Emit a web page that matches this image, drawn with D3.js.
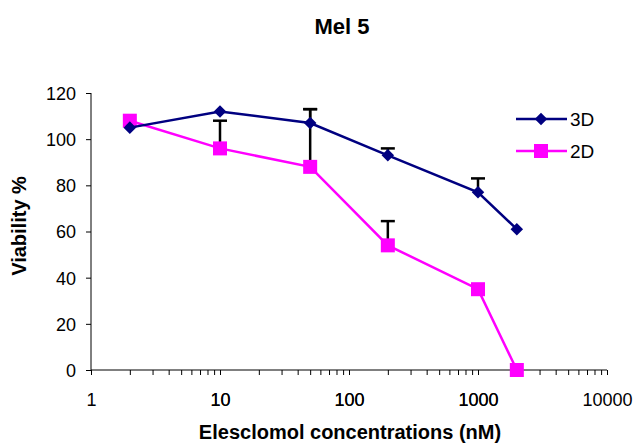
<!DOCTYPE html>
<html>
<head>
<meta charset="utf-8">
<script src="https://cdn.jsdelivr.net/npm/d3@7"></script>
<style>
  body { margin: 0; background: #fff; }
  text { font-family: "Liberation Sans", Arial, sans-serif; }
</style>
</head>
<body>
<div id="chart"></div>
<script>
// Data
const concentrations = [2, 10, 50, 200, 1000, 2000];
const viability3D = [105, 112, 107, 93, 77, 61];
const viability2D = [108, 96, 88, 54, 35, 0];
const err3D = [0, 0, 6, 3, 6, 0];
const err2D = [0, 12, 25, 10.5, 0, 0];
const xTicks = [1, 10, 100, 1000, 10000];
const yTicks = [0, 20, 40, 60, 80, 100, 120];

const width = 637, height = 444;
const margin = { top: 93, right: 30, bottom: 74, left: 91 };

const svg = d3.select('#chart').append('svg')
  .attr('width', width)
  .attr('height', height);

const x = d3.scaleLog().domain([1, 10000]).range([margin.left, 607]);
const y = d3.scaleLinear().domain([0, 120]).range([370, margin.top]);

// Title
svg.append('text')
  .attr('x', 342).attr('y', 34)
  .attr('text-anchor', 'middle')
  .style('font-size', '22px').style('font-weight', 'bold')
  .text('Mel 5');

// Y axis
const yAxis = svg.append('g')
  .attr('transform', `translate(${margin.left},0)`)
  .call(d3.axisLeft(y).tickValues(yTicks).tickSize(5).tickPadding(10));
yAxis.selectAll('text').style('font-size', '18px').attr('fill', '#000').attr('dy', '0.36em');
yAxis.select('.domain').attr('d', `M0,${y(120)}V${y(0)}`);

// X axis with minor ticks
const minorTicks = [];
for (let d = 1; d < 10000; d *= 10) {
  for (let k = 1; k <= 10; k++) minorTicks.push(d * k);
}
const xAxis = svg.append('g')
  .attr('transform', `translate(0,${y(0)})`)
  .call(d3.axisBottom(x).tickValues(minorTicks).tickSize(5)
    .tickFormat(d => xTicks.includes(d) ? d : ''));
xAxis.selectAll('text').style('font-size', '18px').attr('fill', '#000')
  .attr('y', 36).attr('dy', 0);
xAxis.select('.domain').attr('d', `M${x(1)},0H${x(10000)}`);
svg.selectAll('.domain, .tick line').attr('stroke', '#000');

// Axis titles
svg.append('text')
  .attr('transform', 'rotate(-90)')
  .attr('x', -226).attr('y', 26)
  .attr('text-anchor', 'middle')
  .style('font-size', '20px').style('font-weight', 'bold')
  .text('Viability %');
svg.append('text')
  .attr('x', 350).attr('y', 439)
  .attr('text-anchor', 'middle')
  .style('font-size', '20px').style('font-weight', 'bold')
  .text('Elesclomol concentrations (nM)');

const data3D = concentrations.map((c, i) => ({ c, v: viability3D[i], e: err3D[i] }));
const data2D = concentrations.map((c, i) => ({ c, v: viability2D[i], e: err2D[i] }));

const line = d3.line().x(d => x(d.c)).y(d => y(d.v));

// Error bars (plus only)
function errorBars(data) {
  const g = svg.append('g').attr('stroke', '#000').attr('stroke-width', 2.5);
  data.filter(d => d.e > 0).forEach(d => {
    g.append('line').attr('x1', x(d.c)).attr('x2', x(d.c))
      .attr('y1', y(d.v)).attr('y2', y(d.v + d.e));
    g.append('line').attr('x1', x(d.c) - 7).attr('x2', x(d.c) + 7)
      .attr('y1', y(d.v + d.e)).attr('y2', y(d.v + d.e));
  });
}
errorBars(data2D);
errorBars(data3D);

// 2D series
svg.append('path').datum(data2D)
  .attr('fill', 'none').attr('stroke', '#ff00ff').attr('stroke-width', 2.5)
  .attr('d', line);
svg.selectAll('.sq').data(data2D).enter().append('rect')
  .attr('class', 'sq')
  .attr('x', d => x(d.c) - 7).attr('y', d => y(d.v) - 7)
  .attr('width', 14).attr('height', 14)
  .attr('fill', '#ff00ff');

// 3D series
svg.append('path').datum(data3D)
  .attr('fill', 'none').attr('stroke', '#000080').attr('stroke-width', 2.5)
  .attr('d', line);
const diamond = d3.symbol().type(d3.symbolDiamond2).size(100);
svg.selectAll('.dm').data(data3D).enter().append('path')
  .attr('class', 'dm')
  .attr('transform', d => `translate(${x(d.c)},${y(d.v)})`)
  .attr('d', diamond)
  .attr('fill', '#000080');

// Legend
const legend = svg.append('g');
legend.append('line').attr('x1', 516).attr('x2', 567).attr('y1', 119).attr('y2', 119)
  .attr('stroke', '#000080').attr('stroke-width', 2.5);
legend.append('path').attr('transform', 'translate(541,119)')
  .attr('d', diamond).attr('fill', '#000080');
legend.append('text').attr('x', 570).attr('y', 126).style('font-size', '19px').text('3D');
legend.append('line').attr('x1', 516).attr('x2', 567).attr('y1', 151).attr('y2', 151)
  .attr('stroke', '#ff00ff').attr('stroke-width', 2.5);
legend.append('rect').attr('x', 534).attr('y', 144).attr('width', 14).attr('height', 14)
  .attr('fill', '#ff00ff');
legend.append('text').attr('x', 570).attr('y', 158).style('font-size', '19px').text('2D');
</script>
</body>
</html>
